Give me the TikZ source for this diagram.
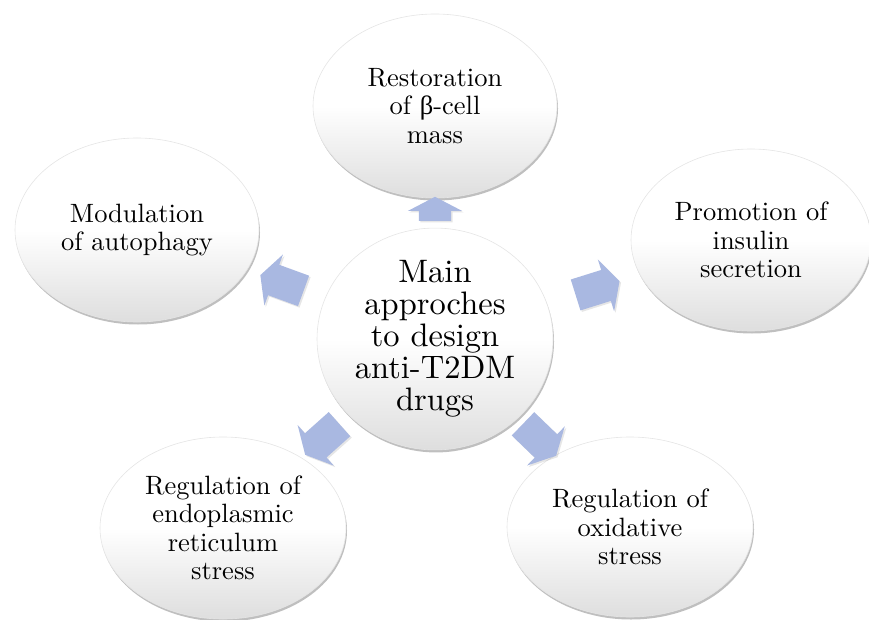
\documentclass[tikz,border=0pt]{standalone}
\usepackage{fontspec}
\setmainfont{lmroman10-regular.otf}
\usetikzlibrary{shapes.geometric,shapes.arrows,shadows}
\newfontfamily\greekfont{Liberation Serif}
\definecolor{arrowblue}{RGB}{169,184,225}
\begin{document}
\begin{tikzpicture}[x=1pt,y=1pt]
    \tikzstyle{bubble}=[ellipse, inner sep=0pt, align=center, draw=black!10, line width=0.6pt,
                        top color=white, bottom color=black!13, middle color=white,
                        drop shadow={shadow xshift=1pt, shadow yshift=-2.5pt, opacity=0.5, fill=black!50},
                        font=\fontsize{26.5}{28.5}\selectfont]
    \tikzstyle{push}=[single arrow, sloped, allow upside down, fill=arrowblue, draw=none,
                      inner xsep=0pt, inner ysep=16pt, single arrow head extend=11pt,
                      single arrow tip angle=125, minimum height=46pt,
                      drop shadow={shadow xshift=1.5pt, shadow yshift=-1.5pt, opacity=0.2, fill=black!50}]
    \useasboundingbox (0,0) rectangle (869,619);

    \node[bubble, minimum width=236pt, minimum height=194pt,
          font=\fontsize{32.5}{32}\selectfont] (main) at (435,280) {Main\\approches\\to design\\anti-T2DM\\drugs};

    \node[bubble, minimum width=244pt, minimum height=184pt] (restore)   at (435,513) {Restoration\\of {\greekfont β}-cell\\mass};
    \node[bubble, minimum width=244pt, minimum height=184pt] (autophagy) at (137,389) {Modulation\\of autophagy};
    \node[bubble, minimum width=240pt, minimum height=182pt] (insulin)   at (751,379) {Promotion of\\insulin\\secretion};
    \node[bubble, minimum width=246pt, minimum height=182pt] (erstress)  at (223,91)  {Regulation of\\endoplasmic\\reticulum\\stress};
    \node[bubble, minimum width=246pt, minimum height=180pt] (oxstress)  at (630,92)  {Regulation of\\oxidative\\stress};

    \path (main) -- node[push, minimum height=24pt] {} (restore)
          (main) -- node[push] {} (autophagy)
          (main) -- node[push] {} (insulin)
          (main) -- node[push] {} (erstress)
          (main) -- node[push] {} (oxstress);
\end{tikzpicture}
\end{document}
